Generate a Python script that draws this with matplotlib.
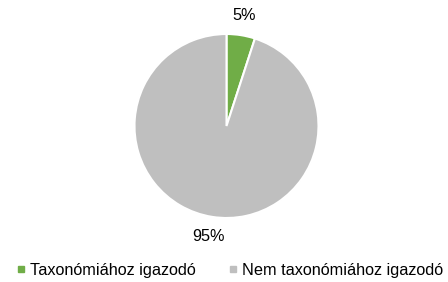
import matplotlib
matplotlib.use("Agg")
import matplotlib.pyplot as plt
from matplotlib.lines import Line2D

plt.rcParams['font.family'] = ['Liberation Sans', 'DejaVu Sans']

categories = ["Taxonómiához igazodó", "Nem taxonómiához igazodó"]
values = [5, 95]
labels = ["5%", "95%"]
colors = ["#70AD47", "#BFBFBF"]

W, H = 448, 282
cx, cy, r = 226.5, 126, 92
fig = plt.figure(figsize=(W / 100, H / 100), dpi=100)
ax = fig.add_axes([(cx - r) / W, 1 - (cy + r) / H, 2 * r / W, 2 * r / H])
wedges, texts = ax.pie(values, labels=labels, colors=colors, startangle=90,
                       counterclock=False, labeldistance=1.22,
                       wedgeprops=dict(edgecolor="white", linewidth=1.5),
                       textprops=dict(fontsize=11.7, color="#000000"))
for t in texts:
    t.set_ha("center")
    t.set_va("center")
ax.set_xlim(-1, 1)
ax.set_ylim(-1, 1)
ax.set_aspect("equal")

handles = [Line2D([], [], marker="s", linestyle="none", markersize=5,
                  markerfacecolor=c, markeredgecolor=c) for c in colors]
fig.legend(handles, categories, loc="center", bbox_to_anchor=(230 / W, 1 - 270 / H),
           ncol=2, frameon=False, fontsize=11.7, handlelength=0.5,
           handletextpad=0.35, columnspacing=2.0, borderaxespad=0,
           borderpad=0)

fig.savefig("out.png", dpi=100)
